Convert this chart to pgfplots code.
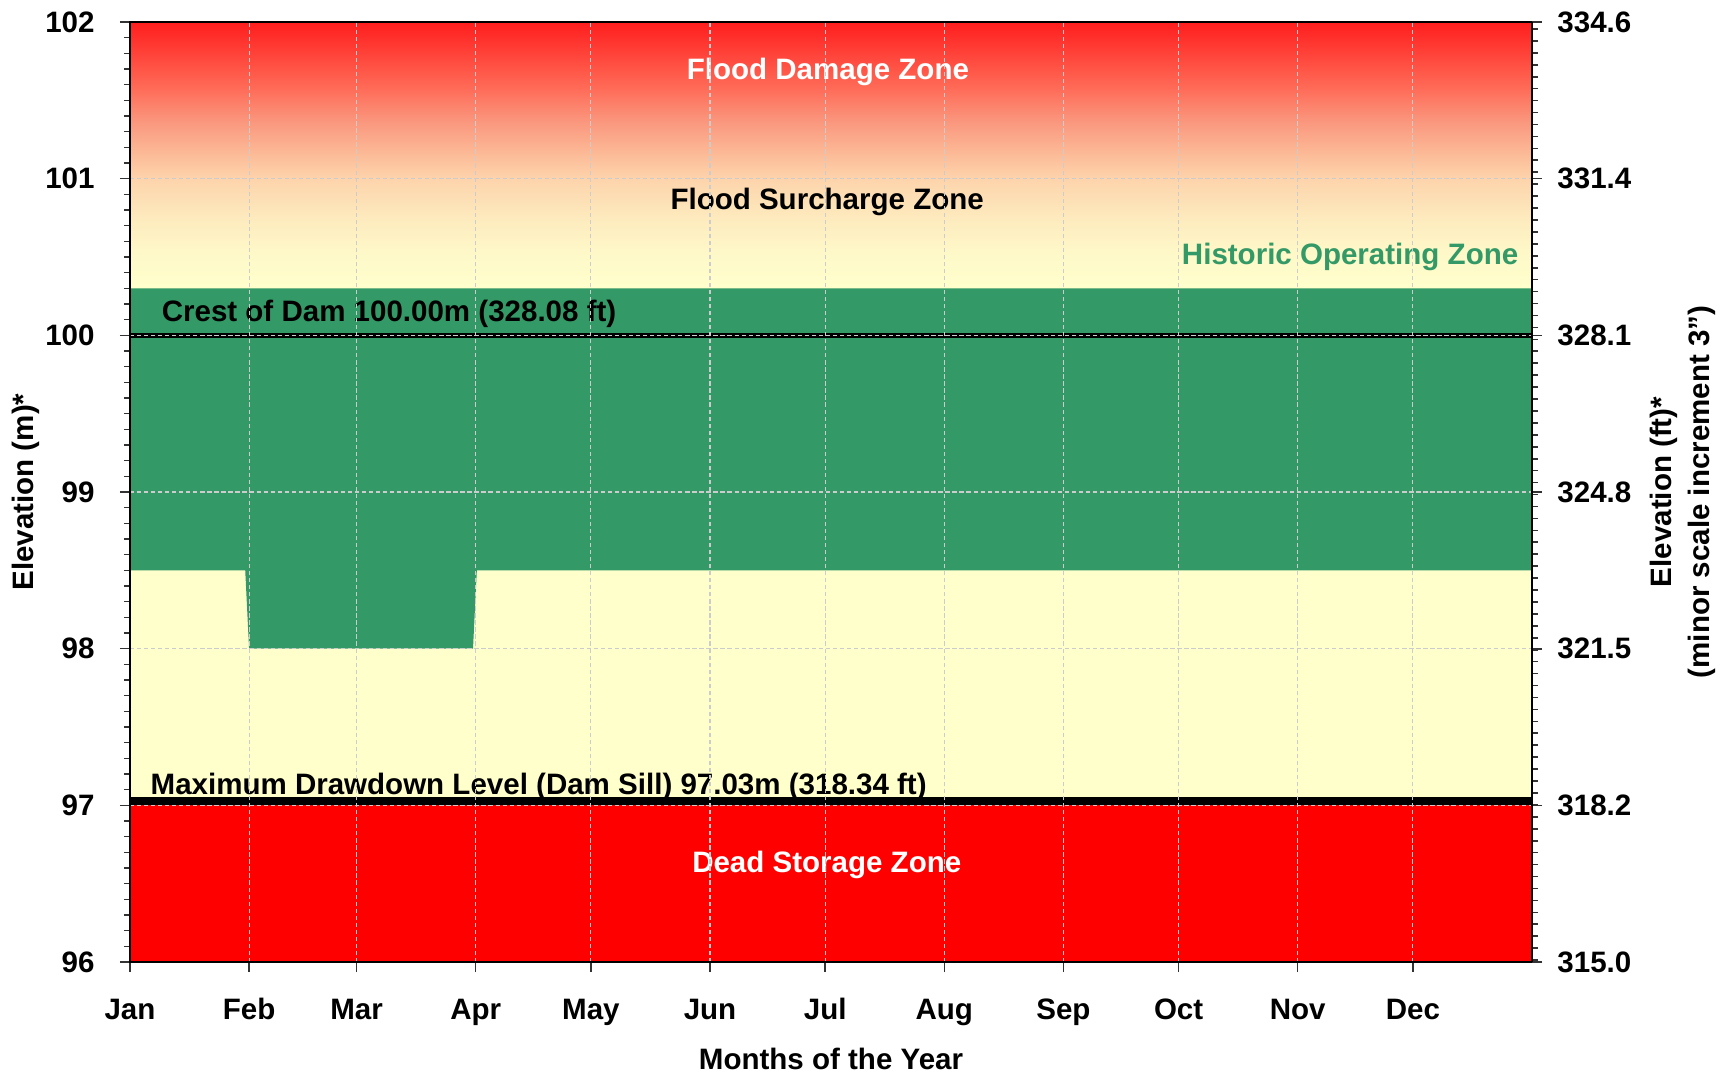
\documentclass[border=0pt]{standalone}
\usepackage{pgfplots}
\pgfplotsset{compat=1.18}
\usepackage{fontspec}
\setmainfont{Liberation Sans}
\definecolor{opgreen}{RGB}{51,153,102}
\definecolor{paleyel}{RGB}{255,255,204}
\definecolor{deadred}{RGB}{255,0,0}
\definecolor{g0}{RGB}{255,255,204}
\definecolor{g1}{RGB}{254,248,200}
\definecolor{g2}{RGB}{253,235,190}
\definecolor{g3}{RGB}{253,212,172}
\definecolor{g4}{RGB}{252,185,150}
\definecolor{g5}{RGB}{250,150,125}
\definecolor{g6}{RGB}{255,108,88}
\definecolor{g7}{RGB}{255,30,30}
\pgfdeclareverticalshading{floodshade}{100bp}{color(0bp)=(g0); color(25bp)=(g0); color(31.75bp)=(g1); color(38bp)=(g2); color(45.5bp)=(g3); color(50.5bp)=(g4); color(56.5bp)=(g5); color(62.5bp)=(g6); color(75bp)=(g7); color(100bp)=(g7)}
\newcommand{\lab}{\fontsize{8.4}{10.8}\selectfont\bfseries}
\begin{document}
\begin{tikzpicture}
\begin{axis}[
 name=ax,
 scale only axis, width=140.2mm, height=94mm,
 xmin=0, xmax=365, ymin=96, ymax=102,
 axis on top,
 xtick={0,31,59,90,120,151,181,212,243,273,304,334},
 xticklabels={Jan,Feb,Mar,Apr,May,Jun,Jul,Aug,Sep,Oct,Nov,Dec},
 xtick pos=bottom, ytick pos=left,
 ytick={96,97,98,99,100,101,102}, minor y tick num=9,
 tick align=outside,
 major tick length=1mm, minor tick length=0.6mm,
 grid=major,
 major grid style={white!80!black, dash pattern=on 1.2pt off 0.8pt, line width=0.3pt},
 axis line style={black, line width=0.5pt},
 tick style={black!80, line width=0.45pt},
 ticklabel style={font=\lab},
 /pgf/number format/assume math mode=true,
 xticklabel style={anchor=north, text height=2.2mm, text depth=0.7mm, yshift=-1.35mm},
 yticklabel style={xshift=-1.3mm},
 xlabel={Months of the Year}, ylabel={Elevation (m)*},
 label style={font=\lab},
 xlabel style={at={(axis description cs:0.5,-0.1032)}, anchor=center},
 ylabel style={at={(axis description cs:-0.0745,0.5)}, anchor=center},
]
% flood zones gradient
\addplot[draw=none, shading=floodshade] coordinates {(0,100.3) (365,100.3) (365,102) (0,102)} -- cycle;
% normal zone
\addplot[draw=none, fill=paleyel] coordinates {(0,97.0) (365,97.0) (365,100.3) (0,100.3)} -- cycle;
% historic operating zone
\addplot[draw=none, fill=opgreen] coordinates {(0,100.3) (365,100.3) (365,98.5) (90.3,98.5) (89.3,98.0) (31,98.0) (30,98.5) (0,98.5)} -- cycle;
% dead storage
\addplot[draw=none, fill=deadred] coordinates {(0,96) (365,96) (365,97.0) (0,97.0)} -- cycle;
% crest and sill lines
\addplot[black, line width=0.55mm] coordinates {(0,100.0) (365,100.0)};
\addplot[black, line width=0.8mm] coordinates {(0,97.026) (365,97.026)};
\node[font=\lab, text=white] at (axis cs:181.7,101.68) {Flood Damage Zone};
\node[font=\lab] at (axis cs:181.5,100.85) {Flood Surcharge Zone};
\node[font=\lab, text=opgreen, anchor=east, inner sep=0pt] at (axis cs:361.6,100.50) {Historic Operating Zone};
\node[font=\lab, anchor=west, inner sep=0pt] at (axis cs:8.1,100.14) {Crest of Dam 100.00m (328.08 ft)};
\node[font=\lab, anchor=west, inner sep=0pt] at (axis cs:5.2,97.12) {Maximum Drawdown Level (Dam Sill) 97.03m (318.34 ft)};
\node[font=\lab, text=white] at (axis cs:181.4,96.62) {Dead Storage Zone};
\end{axis}
\begin{axis}[
 scale only axis, width=140.2mm, height=94mm,
 xmin=0, xmax=365, ymin=314.96, ymax=334.646,
 axis y line*=right, axis x line=none,
 ytick={314.96,318.24,321.52,324.80,328.08,331.37,334.646},
 yticklabels={315.0,318.2,321.5,324.8,328.1,331.4,334.6},
 minor ytick={315,315.25,...,334.5},
 tick align=outside, major tick length=1mm, minor tick length=0.6mm,
 axis line style={black, line width=0.5pt},
 tick style={black!80, line width=0.45pt},
 ticklabel style={font=\lab},
 yticklabel style={xshift=0.3mm},
 ylabel={Elevation (ft)*\\(minor scale increment 3")},
 label style={font=\lab},
 ylabel style={align=center, at={(axis description cs:1.1075,0.5)}, anchor=center, rotate=0},
]
\end{axis}
\pgfresetboundingbox
\path[use as bounding box] (-13mm,-11.4mm) rectangle (159.6mm,96.2mm);
\end{tikzpicture}
\end{document}
